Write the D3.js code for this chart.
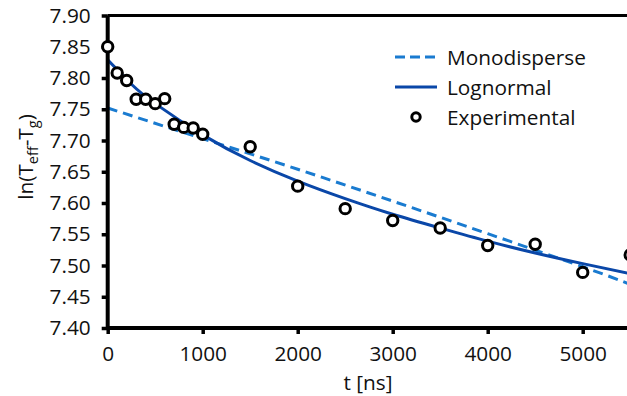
<!DOCTYPE html>
<html>
<head>
<meta charset="utf-8">
<script src="https://cdn.jsdelivr.net/npm/d3@7/dist/d3.min.js"></script>
<style>
  html, body { margin: 0; padding: 0; background: #fff; }
  svg { display: block; }
  text { font-family: "Open Sans", "Noto Sans", sans-serif; fill: #111; }
</style>
</head>
<body>
<svg id="chart" width="627" height="396"></svg>
<script>
// Measured relaxation: ln(T_eff - T_g) vs time
const expTime = [0, 100, 200, 300, 400, 500, 600, 700, 800, 900, 1000, 1500, 2000, 2500, 3000, 3500, 4000, 4500, 5000, 5500];
const expValue = [7.850, 7.808, 7.796, 7.766, 7.766, 7.759, 7.767, 7.726, 7.721, 7.720, 7.710, 7.690, 7.627, 7.591, 7.572, 7.560, 7.532, 7.534, 7.489, 7.517];

// Monodisperse model curve
const monoTime = [0, 1000, 2000, 3000, 4000, 5000, 5500];
const monoValue = [7.752, 7.703, 7.654, 7.603, 7.551, 7.498, 7.470];

// Lognormal model curve
const logTime = [0, 250, 500, 1000, 1500, 2000, 2500, 3000, 3500, 4000, 4500, 5000, 5500];
const logValue = [7.829, 7.790, 7.759, 7.709, 7.668, 7.635, 7.607, 7.582, 7.560, 7.539, 7.520, 7.503, 7.487];

const xTicks = [0, 1000, 2000, 3000, 4000, 5000];
const yTicks = [7.40, 7.45, 7.50, 7.55, 7.60, 7.65, 7.70, 7.75, 7.80, 7.85, 7.90];

const monoColor = "#1a7bd0";
const logColor = "#0a47a8";
const fontSize = "20.8px";

const svg = d3.select("#chart");
const x = d3.scaleLinear().domain([0, 5500]).range([107.7, 630.2]);
const y = d3.scaleLinear().domain([7.40, 7.90]).range([328, 15.5]);

svg.append("defs").append("clipPath").attr("id", "plot")
  .append("rect").attr("x", x(0)).attr("y", y(7.90) - 2)
  .attr("width", x(5500) - x(0)).attr("height", y(7.40) - y(7.90) + 4);

// top frame line
svg.append("line")
  .attr("x1", x(0)).attr("x2", x(5500))
  .attr("y1", y(7.90)).attr("y2", y(7.90))
  .attr("stroke", "#000").attr("stroke-width", 3);

const plot = svg.append("g").attr("clip-path", "url(#plot)");

const line = d3.line().curve(d3.curveNatural);

plot.append("path")
  .attr("d", line(monoTime.map((t, i) => [x(t), y(monoValue[i])])))
  .attr("fill", "none").attr("stroke", monoColor)
  .attr("stroke-width", 3).attr("stroke-dasharray", "10,6");

plot.append("path")
  .attr("d", line(logTime.map((t, i) => [x(t), y(logValue[i])])))
  .attr("fill", "none").attr("stroke", logColor)
  .attr("stroke-width", 3);

// axes
const xAxis = svg.append("g").attr("transform", `translate(0,${y(7.40)})`)
  .call(d3.axisBottom(x).tickValues(xTicks).tickSize(6).tickPadding(12).tickFormat(d3.format("d")));
const yAxis = svg.append("g").attr("transform", `translate(${x(0)},0)`)
  .call(d3.axisLeft(y).tickValues(yTicks).tickSize(6).tickPadding(11).tickFormat(d3.format(".2f")));

[xAxis, yAxis].forEach(g => {
  g.select(".domain").attr("stroke", "#000").attr("stroke-width", 4);
  g.selectAll(".tick line").attr("stroke", "#000").attr("stroke-width", 3.5);
  g.selectAll(".tick text").style("font-size", fontSize).attr("fill", "#111")
    .style("font-family", "'Open Sans', 'Noto Sans', sans-serif");
});
xAxis.select(".domain").attr("d", `M${x(0)},0H${x(5500)}`);
yAxis.select(".domain").attr("d", `M0,${y(7.40)}V${y(7.90)}`);

// experimental points
svg.append("g").selectAll("circle")
  .data(expTime.map((t, i) => [t, expValue[i]]))
  .join("circle")
  .attr("cx", d => x(d[0])).attr("cy", d => y(d[1]))
  .attr("r", 5.2)
  .attr("fill", "#fff").attr("stroke", "#000").attr("stroke-width", 3);

// axis titles
svg.append("text")
  .attr("x", 368).attr("y", 390)
  .attr("text-anchor", "middle")
  .style("font-size", fontSize)
  .text("t [ns]");

const yTitle = svg.append("text")
  .attr("transform", "translate(33,157) rotate(-90)")
  .attr("text-anchor", "middle")
  .style("font-size", fontSize);
yTitle.append("tspan").text("ln(T");
yTitle.append("tspan").attr("dy", 5).style("font-size", "14.5px").text("eff");
yTitle.append("tspan").attr("dy", -5).text("-T");
yTitle.append("tspan").attr("dy", 5).style("font-size", "14.5px").text("g");
yTitle.append("tspan").attr("dy", -5).text(")");

// legend
const legend = svg.append("g");
const items = [
  { label: "Monodisperse", type: "dash" },
  { label: "Lognormal", type: "solid" },
  { label: "Experimental", type: "point" }
];
items.forEach((it, i) => {
  const cy = 57 + i * 30;
  if (it.type === "point") {
    legend.append("circle").attr("cx", 416).attr("cy", cy).attr("r", 4.2)
      .attr("fill", "#fff").attr("stroke", "#000").attr("stroke-width", 3);
  } else {
    legend.append("line").attr("x1", 395).attr("x2", 437)
      .attr("y1", cy).attr("y2", cy)
      .attr("stroke", it.type === "dash" ? monoColor : logColor)
      .attr("stroke-width", 3)
      .attr("stroke-dasharray", it.type === "dash" ? "10,5" : null);
  }
  legend.append("text").attr("x", 447).attr("y", cy + 7.5)
    .style("font-size", fontSize).text(it.label);
});
</script>
</body>
</html>
